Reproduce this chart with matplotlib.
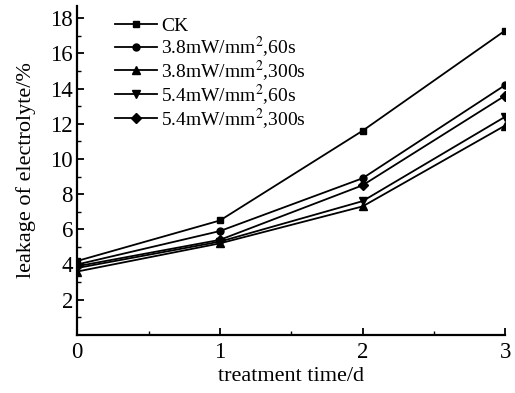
import numpy as np
import matplotlib.pyplot as plt
from matplotlib.ticker import MultipleLocator

days = [0, 1, 2, 3]
labels = ["CK", "3.8mW/mm$^2$,60s", "3.8mW/mm$^2$,300s",
          "5.4mW/mm$^2$,60s", "5.4mW/mm$^2$,300s"]
ck = [4.2, 6.5, 11.6, 17.3]
w38_60 = [4.0, 5.9, 8.9, 14.2]
w38_300 = [3.6, 5.2, 7.3, 11.9]
w54_60 = [3.8, 5.3, 7.6, 12.4]
w54_300 = [3.9, 5.4, 8.5, 13.6]
series = [ck, w38_60, w38_300, w54_60, w54_300]
markers = ['s', 'o', '^', 'v', 'D']
msizes = [5, 5, 6, 6, 5]

plt.rcParams['font.family'] = 'Liberation Serif'
plt.rcParams['mathtext.fontset'] = 'stix'

fig = plt.figure(figsize=(5.15, 3.93), dpi=100)
ax = fig.add_axes([0.150, 0.148, 0.831, 0.837])

for vals, lab, m, ms in zip(series, labels, markers, msizes):
    ax.plot(days, vals, color='black', lw=1.3, marker=m, ms=ms, label=lab)

ax.set_xlim(0, 3)
ax.set_ylim(0, 18.7)
ax.set_xticks(days)
ax.set_yticks(np.arange(0, 19, 2))
ax.set_yticklabels([''] + [str(v) for v in range(2, 19, 2)])
ax.yaxis.set_minor_locator(MultipleLocator(1))
ax.xaxis.set_minor_locator(MultipleLocator(0.5))
ax.tick_params(direction='in', labelsize=16.5, width=1.3, length=5)
ax.tick_params(which='minor', direction='in', width=1, length=3)
ax.tick_params(axis='x', pad=5)
ax.tick_params(axis='y', pad=3)
ax.spines['top'].set_visible(False)
ax.spines['right'].set_visible(False)
ax.spines['left'].set_linewidth(1.6)
ax.spines['bottom'].set_linewidth(1.6)

ax.set_xlabel("treatment time/d", fontsize=16, labelpad=3)
ax.set_ylabel("leakage of electrolyte/%", fontsize=16, labelpad=10)

leg = ax.legend(loc='upper left', frameon=False, fontsize=14,
                handlelength=2.2, handletextpad=0.2, labelspacing=-0.05,
                borderaxespad=0.2, bbox_to_anchor=(0.06, 1.0))

fig.savefig("out.png", dpi=100)
